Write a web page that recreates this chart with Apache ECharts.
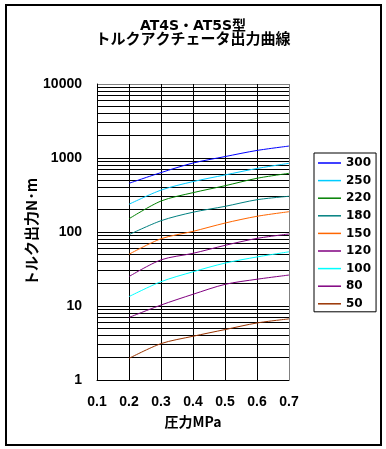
<!DOCTYPE html>
<html>
<head>
<meta charset="utf-8">
<script src="https://cdn.jsdelivr.net/npm/echarts@6/dist/echarts.min.js"></script>
<style>html,body{margin:0;padding:0;background:#fff}#c{width:386px;height:449px}</style>
</head>
<body>
<div id="c"></div>
<script>
// ---- data ----
var pressure = [0.2, 0.3, 0.4, 0.5, 0.6, 0.7];
var s300 = [455, 635, 855, 1045, 1265, 1450];
var s250 = [237, 368, 480, 590, 722, 848];
var s220 = [151, 262, 340, 422, 532, 621];
var s180 = [92, 142, 185, 222, 273, 304];
var s150 = [50, 81, 102, 132, 163, 188];
var s120 = [25, 42, 51.5, 66, 82, 94];
var s100 = [13.4, 21.3, 29, 38, 46, 54];
var s80 = [7.0, 10.3, 14.4, 19.6, 23, 26.2];
var s50 = [1.96, 3.1, 3.9, 4.8, 5.9, 6.7];
var seriesNames = ['300', '250', '220', '180', '150', '120', '100', '80', '50'];
var seriesValues = [s300, s250, s220, s180, s150, s120, s100, s80, s50];
var seriesColors = ['#0000FF', '#00CCFF', '#008000', '#008080', '#FF6600', '#800080', '#00FFFF', '#800080', '#993300'];
var minorGrid = [2,3,4,5,6,7,8,9, 20,30,40,50,60,70,80,90, 200,300,400,500,600,700,800,900, 2000,3000,4000,5000,6000,7000,8000,9000];
var titleLine1 = 'AT4S・AT5S型';
var titleLine2 = 'トルクアクチェータ出力曲線';

var chart = echarts.init(document.getElementById('c'), null, {renderer: 'canvas'});
var numFont = 'Liberation Sans';
var jpFont = 'Noto Sans CJK JP';

var series = seriesNames.map(function (n, i) {
  return {
    name: n,
    type: 'line',
    symbol: 'none',
    smooth: 0.3,
    z: 3,
    lineStyle: {color: seriesColors[i], width: 1},
    itemStyle: {color: seriesColors[i]},
    data: pressure.map(function (p, j) { return [p, seriesValues[i][j]]; })
  };
});
series.push({
  name: 'minor',
  type: 'line',
  data: [],
  z: 1,
  markLine: {
    silent: true,
    symbol: ['none', 'none'],
    label: {show: false},
    z: 1,
    animation: false,
    lineStyle: {color: '#000', width: 1, type: 'solid'},
    emphasis: {disabled: true},
    data: minorGrid.map(function (v) { return {yAxis: v}; })
  }
});

chart.setOption({
  animation: false,
  backgroundColor: '#fff',
  graphic: [
    {type: 'rect', shape: {x: 6, y: 5, width: 375, height: 440}, style: {fill: 'none', stroke: '#000', lineWidth: 2}, z: 0},
    {type: 'text', x: 193, y: 26, style: {text: titleLine1, font: 'bold 14px "DejaVu Sans", "Noto Sans CJK JP"', textAlign: 'center', textVerticalAlign: 'middle', fill: '#000'}},
    {type: 'text', x: 193, y: 38, style: {text: titleLine2, font: 'bold 15px "' + jpFont + '"', textAlign: 'center', textVerticalAlign: 'middle', fill: '#000'}}
  ],
  grid: {left: 97, right: 97, top: 84, bottom: 69, containLabel: false},
  legend: {
    data: seriesNames,
    orient: 'vertical',
    left: 314,
    top: 153,
    icon: 'rect',
    itemWidth: 23,
    itemHeight: 1.5,
    itemGap: 1.6,
    padding: [2, 5, 0, 4],
    borderColor: '#000',
    borderWidth: 1,
    backgroundColor: '#fff',
    textStyle: {fontFamily: 'DejaVu Sans', fontWeight: 'bold', fontSize: 12, lineHeight: 16, color: '#000'}
  },
  xAxis: {
    type: 'value',
    min: 0.1,
    max: 0.7,
    interval: 0.1,
    name: '圧力MPa',
    nameLocation: 'middle',
    nameGap: 35,
    nameTextStyle: {fontFamily: jpFont, fontWeight: 'bold', fontSize: 14, color: '#000'},
    axisLine: {show: true, lineStyle: {color: '#000', width: 1}},
    axisTick: {show: false},
    axisLabel: {margin: 15, fontFamily: numFont, fontWeight: 'bold', fontSize: 14, color: '#000'},
    splitLine: {show: true, lineStyle: {color: ['#000', '#000', '#000', '#000', '#000', '#000', '#808080'], width: 1}}
  },
  yAxis: {
    type: 'log',
    logBase: 10,
    min: 1,
    max: 10000,
    name: 'トルク出力N･m',
    nameLocation: 'middle',
    nameGap: 54,
    nameRotate: 90,
    nameTextStyle: {fontFamily: jpFont, fontWeight: 'bold', fontSize: 15, color: '#000'},
    axisLine: {show: true, lineStyle: {color: '#000', width: 1}},
    axisTick: {show: false},
    axisLabel: {margin: 15, fontFamily: numFont, fontWeight: 'bold', fontSize: 14, color: '#000',
      formatter: function (v) { return String(Math.round(v)); }},
    splitLine: {show: true, lineStyle: {color: ['#000', '#000', '#000', '#000', '#808080'], width: 1}}
  },
  series: series
});
</script>
</body>
</html>
